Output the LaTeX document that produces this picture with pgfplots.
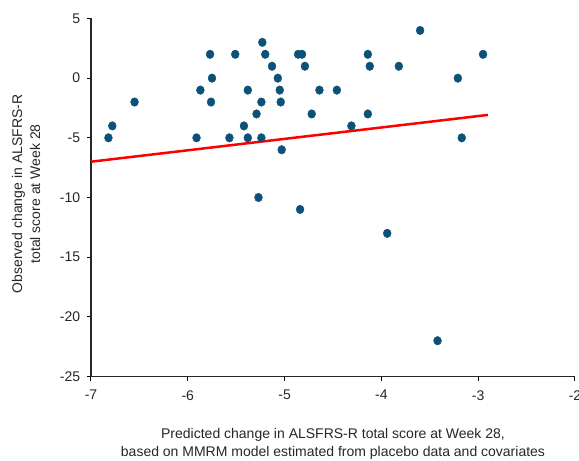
\documentclass[border=0pt]{standalone}
\usepackage{pgfplots}
\pgfplotsset{compat=1.18}
\usepackage{fontspec}
\setmainfont{Liberation Sans}
\definecolor{dot}{RGB}{12,82,120}
\begin{document}
\fontsize{14bp}{17bp}\selectfont
\begin{tikzpicture}
\useasboundingbox (-91bp,-84.5bp) rectangle (488bp,376.5bp);
\begin{axis}[
  at={(0,0)}, anchor=south west,
  scale only axis, width=484bp, height=358bp,
  xmin=-7, xmax=-2, ymin=-25, ymax=5,
  axis x line*=bottom, axis y line*=left,
  xtick={-7,-6,-5,-4,-3,-2}, xticklabels={-7,-6,-5,-4,-3,-2},
  ytick={-25,-20,-15,-10,-5,0,5}, yticklabels={-25,-20,-15,-10,-5,0,5},
  tick align=outside, major tick length=4bp,
  tick style={line width=1bp, black},
  axis line style={line width=1.3bp, black!85},
  ticklabel style={font=\fontsize{14bp}{17bp}\selectfont, text=black!85},
  xticklabel style={yshift=-5bp},
  yticklabel style={xshift=-2bp},
  xlabel={Predicted change in ALSFRS-R total score at Week 28,\\based on MMRM model estimated from placebo data and covariates},
  xlabel style={align=center, at={(axis description cs:0.5,-0.1885)}, anchor=center, text=black!85, font=\fontsize{14bp}{18.5bp}\selectfont},
  ylabel={Observed change in ALSFRS-R\\total score at Week 28},
  ylabel style={align=center, at={(axis description cs:-0.134,0.51)}, anchor=center, rotate=0, text=black!85, font=\fontsize{14bp}{18bp}\selectfont},
  clip=false,
]
\addplot[only marks, mark=*, mark size=4.3bp, mark options={fill=dot, draw=dot, xscale=0.92}] coordinates {
(-6.82,-5) (-6.78,-4) (-6.55,-2) (-5.91,-5) (-5.87,-1) (-5.77,2) (-5.75,0) (-5.76,-2)
(-5.51,2) (-5.57,-5) (-5.42,-4) (-5.38,-1) (-5.38,-5) (-5.29,-3) (-5.27,-10) (-5.24,-2)
(-5.24,-5) (-5.23,3) (-5.20,2) (-5.13,1) (-5.07,0) (-5.05,-1) (-5.04,-2) (-5.03,-6)
(-4.86,2) (-4.82,2) (-4.79,1) (-4.84,-11) (-4.72,-3) (-4.64,-1) (-4.46,-1) (-4.31,-4)
(-4.14,2) (-4.12,1) (-4.14,-3) (-3.82,1) (-3.60,4) (-3.21,0) (-3.17,-5) (-2.95,2)
(-3.94,-13) (-3.42,-22)
};
\addplot[red, line width=2.5bp, no marks] coordinates {(-7,-7) (-2.9,-3.08)};
\end{axis}
\end{tikzpicture}
\end{document}
